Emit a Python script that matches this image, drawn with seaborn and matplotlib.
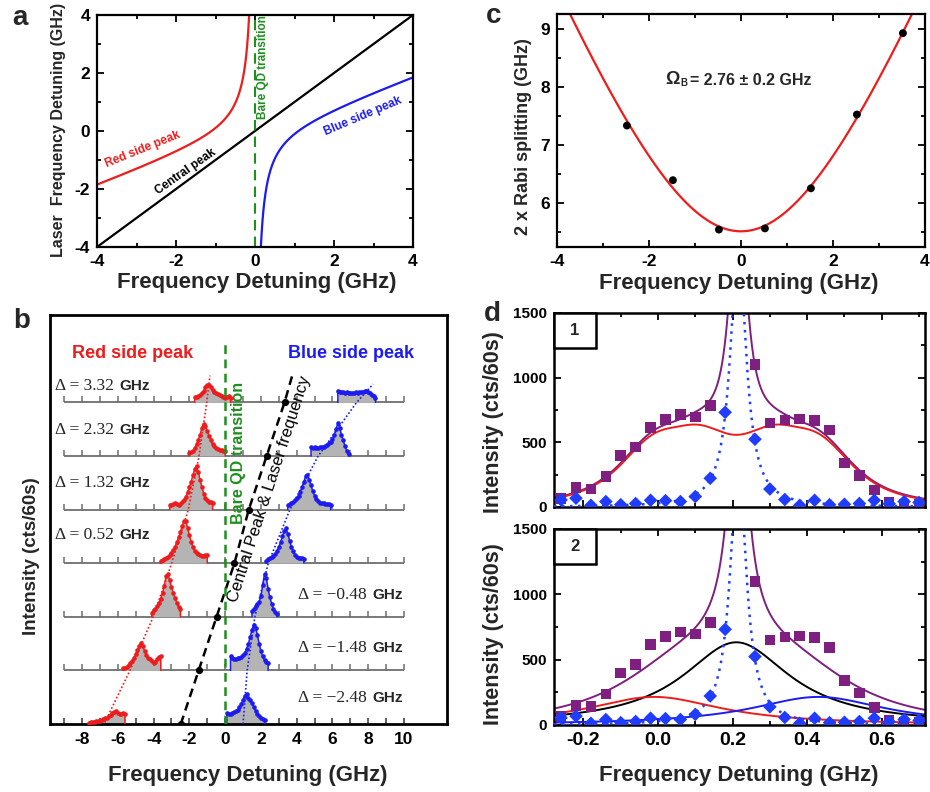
import numpy as np
import matplotlib
matplotlib.use("Agg")
import matplotlib.pyplot as plt
from matplotlib.patches import Rectangle
from matplotlib.ticker import MultipleLocator
from matplotlib.markers import TICKUP
import seaborn as sns

sns.set_theme(style="ticks")
plt.rcParams.update({
    "font.family": ["Liberation Sans", "DejaVu Sans"],
    "font.weight": "bold",
    "axes.unicode_minus": False,
    "axes.linewidth": 1.6,
    "axes.edgecolor": "black",
    "xtick.color": "black",
    "ytick.color": "black",
    "xtick.direction": "in",
    "ytick.direction": "in",
})

RED = "#ee1c1c"
BLUE = "#1c1cf0"
GREEN = "#1f8f1f"
PURPLE = "#7f1f7f"
DIAMOND = "#1f3cff"
FILL = "#b4b4b4"
BASE = "#6e6e6e"

# ---------------- data ----------------
# (a) dressed-state sketch: side peaks follow y = x/2 - omega^2 / (2x)
a_omega = 1.1

# (b) fluorescence spectra, bottom row first (row index = offset)
b_delta = [-2.48, -1.48, -0.48, 0.52, 1.32, 2.32, 3.32]
b_delta_text = ["\u22122.48", "\u22121.48", "\u22120.48", "0.52", "1.32", "2.32", "3.32"]
spec_step = 0.1
red_start = [-7.6, -5.7, -4.1, -3.6, -3.1, -2.0, -1.7]
red_height = [
    [0.02, 0.03, 0.04, 0.04, 0.05, 0.06, 0.06, 0.07, 0.09, 0.11, 0.12, 0.14, 0.16, 0.20, 0.23, 0.25, 0.21, 0.18, 0.19, 0.20, 0.19],
    [0.04, 0.05, 0.07, 0.10, 0.14, 0.18, 0.24, 0.30, 0.38, 0.46, 0.52, 0.45, 0.36, 0.29, 0.24, 0.21, 0.17, 0.14, 0.16, 0.21, 0.25, 0.27],
    [0.08, 0.13, 0.15, 0.20, 0.26, 0.34, 0.44, 0.58, 0.76, 0.80, 0.68, 0.56, 0.45, 0.35, 0.26, 0.19, 0.14],
    [0.05, 0.06, 0.08, 0.10, 0.12, 0.15, 0.19, 0.24, 0.31, 0.39, 0.48, 0.58, 0.70, 0.79, 0.78, 0.66, 0.52, 0.40, 0.30, 0.23, 0.19, 0.17, 0.15, 0.14, 0.14, 0.15, 0.15],
    [0.08, 0.09, 0.10, 0.12, 0.11, 0.08, 0.10, 0.14, 0.18, 0.24, 0.32, 0.42, 0.52, 0.64, 0.76, 0.82, 0.70, 0.55, 0.42, 0.30, 0.22, 0.17, 0.15, 0.14, 0.13],
    [0.05, 0.07, 0.10, 0.15, 0.22, 0.30, 0.40, 0.52, 0.60, 0.55, 0.46, 0.38, 0.30, 0.22, 0.18, 0.15, 0.13, 0.12, 0.11, 0.10, 0.09],
    [0.10, 0.10, 0.12, 0.14, 0.17, 0.22, 0.28, 0.33, 0.32, 0.28, 0.23, 0.20, 0.17, 0.15, 0.14, 0.12, 0.10, 0.08, 0.10, 0.12, 0.09],
]
blue_start = [0.1, 0.3, 1.5, 2.3, 3.5, 4.8, 6.3]
blue_height = [
    [0.21, 0.19, 0.18, 0.20, 0.22, 0.24, 0.27, 0.31, 0.37, 0.45, 0.53, 0.56, 0.48, 0.45, 0.40, 0.32, 0.25, 0.19, 0.14, 0.11, 0.09, 0.08],
    [0.26, 0.23, 0.21, 0.22, 0.23, 0.24, 0.25, 0.28, 0.32, 0.40, 0.50, 0.62, 0.76, 0.85, 0.80, 0.66, 0.50, 0.36, 0.26, 0.19, 0.15, 0.13],
    [0.10, 0.15, 0.20, 0.24, 0.28, 0.38, 0.60, 0.80, 0.72, 0.52, 0.36, 0.24, 0.15, 0.09, 0.05],
    [0.05, 0.07, 0.09, 0.11, 0.14, 0.18, 0.23, 0.30, 0.39, 0.50, 0.60, 0.65, 0.55, 0.42, 0.31, 0.22, 0.16, 0.12, 0.10, 0.09, 0.09, 0.08],
    [0.08, 0.10, 0.12, 0.14, 0.17, 0.21, 0.26, 0.33, 0.42, 0.52, 0.62, 0.65, 0.56, 0.45, 0.34, 0.26, 0.20, 0.16, 0.13, 0.12, 0.12, 0.11, 0.10, 0.10, 0.09],
    [0.16, 0.15, 0.16, 0.15, 0.15, 0.16, 0.17, 0.17, 0.19, 0.21, 0.24, 0.27, 0.32, 0.40, 0.50, 0.61, 0.52, 0.40, 0.29, 0.18, 0.09, 0.03],
    [0.21, 0.20, 0.19, 0.19, 0.18, 0.19, 0.18, 0.17, 0.17, 0.18, 0.19, 0.18, 0.19, 0.20, 0.20, 0.21, 0.22, 0.20, 0.17, 0.14, 0.11, 0.08],
]
red_guide_x = [-7.03, -6.77, -5.32, -4.02, -2.99, -2.06, -1.46, -1.03, -0.85]
red_guide_row = [-0.24, 0, 1, 2, 3, 4, 5, 6, 6.5]
blue_guide_x = [1.0, 1.23, 1.66, 2.41, 3.62, 5.2, 7.35, 8.27]
blue_guide_row = [0, 1, 2, 3, 4, 5, 6, 6.34]
laser_x = [-2.48, -1.48, -0.48, 0.52, 1.32, 2.32, 3.32, 3.8]
laser_row = [0, 1, 2, 3, 4, 5, 6, 6.56]

# (c) splitting vs detuning
c_detuning = [-2.48, -1.48, -0.48, 0.52, 1.52, 2.52, 3.52]
c_splitting = [7.34, 6.40, 5.55, 5.57, 6.26, 7.53, 8.93]
omega_b = 2.76

# (d) high-resolution spectrum near the central peak
d_freq = [-0.26, -0.22, -0.18, -0.14, -0.10, -0.06, -0.02, 0.02, 0.06, 0.10, 0.14, 0.18, 0.22,
          0.26, 0.30, 0.34, 0.38, 0.42, 0.46, 0.50, 0.54, 0.58, 0.62, 0.66, 0.70]
d_total = [67, 150, 140, 238, 399, 463, 615, 676, 713, 697, 786, np.nan, np.nan,
           1100, 649, 672, 680, 669, 594, 339, 245, 132, 36, 21, 23]
d_coherent = [55, 68, 13, 42, 18, 27, 52, 49, 42, 81, 222, 732, np.nan,
              524, 139, 58, 13, 52, 18, 21, 27, 52, 25, 42, 35]
coh_peak = (2000, 0.215, 0.026)          # amplitude, centre, half width
d1_side_amp = 558
d1_side_centers = (0.05, 0.37)
d1_side_width = 0.16
d2_central = (633, 0.21, 0.175)
d2_red = (215, -0.01, 0.22)
d2_blue = (215, 0.43, 0.22)
d2_total_broad = (620, 0.21, 0.30)
d2_total_mid = (250, 0.21, 0.06)

# ---------------- layout helpers ----------------
W, H = 930, 792
fig = plt.figure(figsize=(W / 100, H / 100), dpi=100)
fig.patch.set_facecolor("white")


def axes_px(l, t, r, b):
    return fig.add_axes([l / W, 1 - b / H, (r - l) / W, (b - t) / H])


def text_px(x, y, s, **kw):
    return fig.text(x / W, 1 - y / H, s, **kw)


def style_axes(ax, xmaj, xmin, ymaj, ymin, size, lw=1.6):
    ax.xaxis.set_major_locator(MultipleLocator(xmaj))
    ax.xaxis.set_minor_locator(MultipleLocator(xmin))
    ax.yaxis.set_major_locator(MultipleLocator(ymaj))
    ax.yaxis.set_minor_locator(MultipleLocator(ymin))
    ax.tick_params(which="both", direction="in", top=True, right=True,
                   width=1.3, labelsize=size, pad=5)
    ax.tick_params(which="major", length=5)
    ax.tick_params(which="minor", length=3)
    for sp in ax.spines.values():
        sp.set_linewidth(lw)
        sp.set_color("black")
    ax.set_xlabel("")
    ax.set_ylabel("")


def lorentz(x, amp, x0, w):
    return amp * w ** 2 / ((x - x0) ** 2 + w ** 2)


def flat_top(x, amp, x0, w):
    return amp / (1 + np.abs((x - x0) / w) ** 3)


# ---------------- (a) ----------------
ax = axes_px(97, 15, 413, 247)
xl = np.linspace(-4, -0.12, 500)
xr = np.linspace(0.12, 4, 500)
side = lambda x: x / 2 - a_omega ** 2 / (2 * x)
sns.lineplot(x=xl, y=side(xl), ax=ax, color=RED, lw=1.6, estimator=None, sort=False)
sns.lineplot(x=xr, y=side(xr), ax=ax, color=BLUE, lw=1.6, estimator=None, sort=False)
lim = np.array([-4.0, 4.0])
sns.lineplot(x=lim, y=lim, ax=ax, color="black", lw=1.6, estimator=None, sort=False)
ax.axvline(0, color=GREEN, lw=1.5, dashes=(5, 3))
ax.set_xlim(-4, 4)
ax.set_ylim(-4, 4)
style_axes(ax, 2, 1, 2, 1, 12.5)
ax.text(-2.84, -0.655, "Red side peak", color=RED, fontsize=8.5, rotation=22,
        ha="center", va="center", rotation_mode="anchor")
ax.text(-1.75, -1.42, "Central peak", color="black", fontsize=8.5, rotation=35,
        ha="center", va="center", rotation_mode="anchor")
ax.text(2.72, 0.52, "Blue side peak", color=BLUE, fontsize=8.5, rotation=23,
        ha="center", va="center", rotation_mode="anchor")
ax.text(0.2, 2.19, "Bare QD transition", color=GREEN, fontsize=8.5, rotation=90,
        ha="center", va="center")
text_px(257, 283, "Frequency Detuning (GHz)", fontsize=16, ha="center", va="center")
text_px(59, 130, "Laser  Frequency Detuning (GHz)", fontsize=11.5, rotation=90,
        ha="center", va="center")

# ---------------- (b) ----------------
ax = axes_px(50, 315, 447, 724)
ax.set_xlim(-9.79, 12.4)
ax.set_ylim(0, 7.63)
grid_ticks = np.arange(-9, 11)
for k in range(7):
    if k > 0:
        ax.hlines(k, -9, 10, color=BASE, lw=1.3, zorder=1)
    ax.plot(grid_ticks, np.full(grid_ticks.size, k), ls="none", marker=TICKUP, ms=4,
            mew=1.1, color=BASE if k else "#333333", zorder=1)
    for start, heights, col in ((red_start[k], red_height[k], RED),
                                (blue_start[k], blue_height[k], BLUE)):
        h = np.asarray(heights)
        x = start + spec_step * np.arange(h.size)
        ax.fill_between(x, k, k + h, color=FILL, lw=0, zorder=2)
        ax.plot(np.r_[x[0], x, x[-1]], np.r_[k, k + h, k], color=col, lw=1.1, zorder=3)
        ax.plot(x, k + h, ls="none", marker="o", ms=2.3, color=col, zorder=3)

ax.plot(red_guide_x, red_guide_row, color=RED, lw=1.2, ls=(0, (1, 1.3)), zorder=4)
ax.plot(blue_guide_x, blue_guide_row, color=BLUE, lw=1.2, ls=(0, (1, 1.3)), zorder=4)
ax.plot(laser_x, laser_row, color="black", lw=1.8, dashes=(3.5, 2.2), zorder=4)
ax.plot(b_delta, np.arange(7), ls="none", marker="o", ms=4.2, color="black", zorder=5)
ax.vlines(0, 0, 7.12, color=GREEN, lw=1.8, linestyles=(0, (3.5, 2.2)), zorder=4)

label_lift = [0.48, 0.41, 0.41, 0.52, 0.50, 0.49, 0.30]
for k in range(7):
    if k >= 3:
        t = ax.text(-9.51, k + label_lift[k], "\u0394 = " + b_delta_text[k],
                    family="Liberation Serif", weight="normal", fontsize=12.5,
                    ha="left", va="center")
        ax.annotate("GHz", xy=(1, 0.5), xycoords=t, xytext=(4, 0),
                    textcoords="offset points", ha="left", va="center", fontsize=11)
    else:
        t = ax.text(9.95, k + label_lift[k], "GHz", ha="right", va="center", fontsize=11)
        ax.annotate("\u0394 = " + b_delta_text[k], xy=(0, 0.5), xycoords=t, xytext=(-4, 0),
                    textcoords="offset points", ha="right", va="center",
                    family="Liberation Serif", weight="normal", fontsize=12.5)

ax.text(-5.15, 6.92, "Red side peak", color=RED, fontsize=13, ha="center", va="center")
ax.text(7.03, 6.92, "Blue side peak", color=BLUE, fontsize=13, ha="center", va="center")
ax.text(0.72, 5.05, "Bare QD transition", color=GREEN, fontsize=11.5, rotation=90,
        ha="center", va="center")
ax.text(2.5, 4.38, "Central Peak & Laser frequency", color="black", fontsize=12,
        weight="normal", rotation=72, ha="center", va="center", rotation_mode="anchor")
ax.set_xticks(np.arange(-8, 11, 2))
ax.set_yticks([])
ax.tick_params(axis="x", length=0, labelsize=12.5, pad=6)
for sp in ax.spines.values():
    sp.set_linewidth(2.0)
    sp.set_color("black")
text_px(248, 776, "Frequency Detuning (GHz)", fontsize=16, ha="center", va="center")
text_px(32, 556, "Intensity (cts/60s)", fontsize=13.5, rotation=90, ha="center", va="center")

# ---------------- (c) ----------------
ax = axes_px(557, 14, 925, 247)
xc = np.linspace(-4, 4, 600)
sns.lineplot(x=xc, y=2 * np.sqrt(omega_b ** 2 + xc ** 2), ax=ax, color=RED, lw=1.6,
             estimator=None, sort=False)
sns.scatterplot(x=c_detuning, y=c_splitting, ax=ax, color="black", s=32,
                edgecolor="none", zorder=5)
ax.set_xlim(-4, 4)
ax.set_ylim(5.25, 9.26)
style_axes(ax, 2, 1, 1, 0.5, 12.5)
t1 = ax.text(-1.65, 8.06, "\u03a9", fontsize=13, ha="left", va="baseline")
t2 = ax.annotate("B", xy=(1, 0), xycoords=t1, xytext=(0.3, 0), textcoords="offset points",
                 ha="left", va="bottom", fontsize=7)
ax.annotate("= 2.76 \u00b1 0.2 GHz", xy=(1, 0), xycoords=t2, xytext=(2, 0),
            textcoords="offset points", ha="left", va="bottom", fontsize=11.5)
text_px(739, 284, "Frequency Detuning (GHz)", fontsize=16, ha="center", va="center")
text_px(523, 137, "2 x Rabi splitting (GHz)", fontsize=13, rotation=90,
        ha="center", va="center")

# ---------------- (d) ----------------
xd = np.linspace(-0.279, 0.716, 1500)
narrow = lorentz(xd, *coh_peak)
d1_side = sum(flat_top(xd, d1_side_amp, c, d1_side_width) for c in d1_side_centers)

for idx, (top, bottom, label_y) in enumerate(((313, 507, 422), (529, 725, 634))):
    ax = axes_px(554, top, 925, bottom)
    if idx == 0:
        sns.lineplot(x=xd, y=d1_side + narrow, ax=ax, color=PURPLE, lw=1.4,
                     estimator=None, sort=False)
        sns.lineplot(x=xd, y=d1_side, ax=ax, color=RED, lw=1.4, estimator=None, sort=False)
    else:
        total = narrow + flat_top(xd, *d2_total_broad) + lorentz(xd, *d2_total_mid)
        sns.lineplot(x=xd, y=total, ax=ax, color=PURPLE, lw=1.4, estimator=None, sort=False)
        sns.lineplot(x=xd, y=lorentz(xd, *d2_central), ax=ax, color="black", lw=1.4,
                     estimator=None, sort=False)
        sns.lineplot(x=xd, y=lorentz(xd, *d2_red), ax=ax, color=RED, lw=1.4,
                     estimator=None, sort=False)
        sns.lineplot(x=xd, y=lorentz(xd, *d2_blue), ax=ax, color=BLUE, lw=1.4,
                     estimator=None, sort=False)
    ax.plot(xd, narrow, color=DIAMOND, lw=1.8, ls=(0, (1, 2.2)), zorder=4)
    sns.scatterplot(x=d_freq, y=d_total, ax=ax, marker="s", s=58, color=PURPLE,
                    edgecolor="none", zorder=5)
    sns.scatterplot(x=d_freq, y=d_coherent, ax=ax, marker="D", s=48, color=DIAMOND,
                    edgecolor="none", zorder=6)
    ax.set_xlim(-0.279, 0.716)
    ax.set_ylim(0, 1500)
    style_axes(ax, 0.2, 0.1, 500, 250, 11, lw=1.8)
    ax.tick_params(axis="x", labelsize=14)
    if idx == 0:
        ax.tick_params(axis="x", labelbottom=False)
    else:
        ax.set_xticks([-0.2, 0.0, 0.2, 0.4, 0.6])
        ax.set_xticklabels(["-0.2", "0.0", "0.2", "0.4", "0.6"])
    ax.add_patch(Rectangle((0, 0.822), 0.113, 0.178, transform=ax.transAxes, fc="white",
                           ec="black", lw=1.8, zorder=7, clip_on=False))
    ax.text(0.0565, 0.911, str(idx + 1), transform=ax.transAxes, fontsize=12,
            ha="center", va="center", zorder=8)
    text_px(494, label_y, "Intensity (cts/60s)", fontsize=15.5,
            rotation=90, ha="center", va="center")

text_px(739, 776, "Frequency Detuning (GHz)", fontsize=16, ha="center", va="center")

# panel letters
for s, (x, y) in zip("abcd", ((20, 25), (22, 328), (494, 23), (492, 321))):
    text_px(x, y, s, fontsize=20, ha="center", va="baseline")

fig.savefig("out.png", dpi=100, facecolor="white")
